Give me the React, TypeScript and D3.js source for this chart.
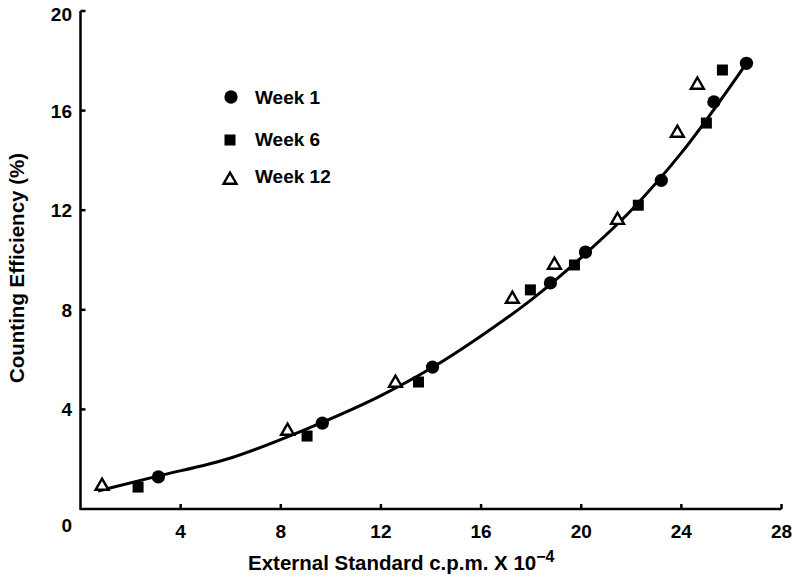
import React from "react";
import * as d3 from "d3";

// Counting efficiency vs external standard count rate, three storage times
const week1X = [3.11, 9.66, 14.06, 18.77, 20.17, 23.2, 25.3, 26.6];
const week1Y = [1.29, 3.45, 5.7, 9.08, 10.32, 13.2, 16.35, 17.9];
const week6X = [2.3, 9.05, 13.5, 17.97, 19.73, 22.28, 25.0, 25.64];
const week6Y = [0.88, 2.93, 5.1, 8.8, 9.8, 12.2, 15.5, 17.63];
const week12X = [0.86, 8.27, 12.58, 17.25, 18.93, 21.45, 23.84, 24.64];
const week12Y = [0.92, 3.13, 5.06, 8.43, 9.8, 11.6, 15.1, 17.03];

// Fitted calibration curve
const curveX = [0.7, 3, 6, 9, 12, 14, 16, 18, 20, 22, 24, 26.6];
const curveY = [0.72, 1.3, 2.05, 3.2, 4.55, 5.65, 6.95, 8.4, 10.1, 12.0, 14.3, 17.9];

const xTicks = [4, 8, 12, 16, 20, 24, 28];
const yTicks = [4, 8, 12, 16, 20];

const legendLabels = ["Week 1", "Week 6", "Week 12"];

const W = 793;
const H = 577;
const FONT = "'Liberation Sans', Arial, Helvetica, sans-serif";

export default function App() {
  const x = d3.scaleLinear().domain([0, 28]).range([80.5, 781.5]);
  const y = d3.scaleLinear().domain([0, 20]).range([509, 11]);

  const zip = (xs: number[], ys: number[]) => xs.map((v, i) => [v, ys[i]] as [number, number]);
  const s1 = zip(week1X, week1Y);
  const s6 = zip(week6X, week6Y);
  const s12 = zip(week12X, week12Y);

  const line = d3
    .line<[number, number]>()
    .x((d) => x(d[0]))
    .y((d) => y(d[1]))
    .curve(d3.curveMonotoneX);

  const circlePath = d3.symbol(d3.symbolCircle, 138)()!;
  const squarePath = d3.symbol(d3.symbolSquare, 121)()!;
  const trianglePath = d3.symbol(d3.symbolTriangle, 72)()!;

  const tickFont = { fontFamily: FONT, fontWeight: 700, fontSize: 19 } as const;

  const x0 = x(0);
  const y0 = y(0);

  return (
    <svg width={W} height={H} style={{ position: "absolute", left: 0, top: 0, background: "#fff" }}>
      {/* axes */}
      <line x1={x0} y1={y0} x2={x(28)} y2={y0} stroke="#000" strokeWidth={2.5} />
      <line x1={x0} y1={y0 + 1} x2={x0} y2={y(20)} stroke="#000" strokeWidth={2.5} />
      {xTicks.map((t) => (
        <g key={"xt" + t}>
          <line x1={x(t)} x2={x(t)} y1={y0} y2={y0 - 5} stroke="#000" strokeWidth={2.5} />
          <text x={x(t)} y={y0 + 29} textAnchor="middle" {...tickFont}>
            {t}
          </text>
        </g>
      ))}
      {yTicks.map((t) => (
        <g key={"yt" + t}>
          <line x1={x0} x2={x0 + 5} y1={y(t)} y2={y(t)} stroke="#000" strokeWidth={2.5} />
          <text x={72} y={y(t) + (t === 20 ? 10 : 7)} textAnchor="end" {...tickFont}>
            {t}
          </text>
        </g>
      ))}
      <text x={72} y={y0 + 23} textAnchor="end" {...tickFont}>
        0
      </text>

      {/* axis titles */}
      <text x={248} y={570} fontFamily={FONT} fontWeight={700} fontSize={20.5}>
        External Standard c.p.m. X 10
        <tspan dy={-8} fontSize={16}>
          −4
        </tspan>
      </text>
      <text
        transform={`translate(24, 268) rotate(-90)`}
        textAnchor="middle"
        fontFamily={FONT}
        fontWeight={700}
        fontSize={20.5}
      >
        Counting Efficiency (%)
      </text>

      {/* fitted curve */}
      <path d={line(zip(curveX, curveY)) ?? ""} fill="none" stroke="#000" strokeWidth={3} />

      {/* data markers */}
      {s12.map((d, i) => (
        <path
          key={"t" + i}
          d={trianglePath}
          transform={`translate(${x(d[0])},${y(d[1])})`}
          fill="#fff"
          stroke="#000"
          strokeWidth={2.4}
        />
      ))}
      {s6.map((d, i) => (
        <path key={"s" + i} d={squarePath} transform={`translate(${x(d[0])},${y(d[1])})`} fill="#000" />
      ))}
      {s1.map((d, i) => (
        <path key={"c" + i} d={circlePath} transform={`translate(${x(d[0])},${y(d[1])})`} fill="#000" />
      ))}

      {/* legend */}
      <g fontFamily={FONT} fontWeight={700} fontSize={19}>
        <path d={circlePath} transform="translate(231,97)" fill="#000" />
        <text x={255} y={104}>{legendLabels[0]}</text>
        <path d={squarePath} transform="translate(230,140)" fill="#000" />
        <text x={255} y={146}>{legendLabels[1]}</text>
        <path d={trianglePath} transform="translate(230,180)" fill="#fff" stroke="#000" strokeWidth={2.4} />
        <text x={255} y={183}>{legendLabels[2]}</text>
      </g>
    </svg>
  );
}
